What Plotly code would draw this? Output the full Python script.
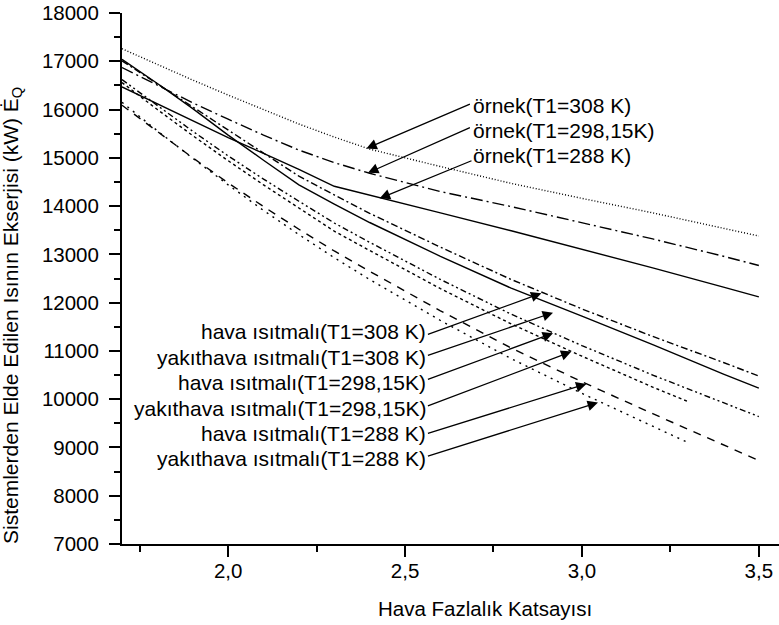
import plotly.graph_objects as go

FONT = "Liberation Sans, Arial, sans-serif"

# ---- data ----
x_full = [1.7, 1.8, 1.9, 2.0, 2.1, 2.2, 2.3, 2.4, 2.6, 2.8, 3.0, 3.2, 3.4, 3.5]
x_short = [1.7, 1.8, 1.9, 2.0, 2.1, 2.2, 2.3, 2.4, 2.6, 2.8, 3.0, 3.2, 3.3]

ornek_308 = [17260, 16930, 16610, 16300, 16000, 15700, 15430, 15180, 14820, 14470, 14160, 13860, 13540, 13380]
ornek_298 = [16870, 16500, 16140, 15800, 15470, 15160, 14900, 14680, 14300, 13990, 13650, 13320, 12960, 12770]
ornek_288 = [16470, 16120, 15770, 15420, 15090, 14760, 14410, 14230, 13860, 13490, 13110, 12720, 12320, 12120]
hava_308 = [17010, 16530, 16060, 15580, 15100, 14620, 14230, 13850, 13150, 12480, 11870, 11300, 10760, 10480]
yakit_308 = [17040, 16540, 16020, 15470, 14950, 14440, 14040, 13660, 12960, 12300, 11720, 11130, 10520, 10230]
hava_298 = [16620, 16080, 15550, 15040, 14560, 14100, 13650, 13250, 12480, 11760, 11110, 10500, 9930, 9640]
yakit_298 = [16560, 16000, 15460, 14940, 14440, 13960, 13480, 13080, 12290, 11560, 10890, 10250, 9950]
hava_288 = [16090, 15540, 15000, 14480, 13990, 13520, 13070, 12650, 11830, 11060, 10360, 9700, 9050, 8730]
yakit_288 = [16150, 15560, 14990, 14440, 13910, 13410, 12930, 12480, 11630, 10840, 10120, 9440, 9100]

x_tickvals = [2.0, 2.5, 3.0, 3.5]
x_ticktext = ["2,0", "2,5", "3,0", "3,5"]
x_minorvals = [1.75, 2.25, 2.75, 3.25]
y_tickvals = [7000, 8000, 9000, 10000, 11000, 12000, 13000, 14000, 15000, 16000, 17000, 18000]
y_ticktext = [str(v) for v in y_tickvals]

x_title = "Hava Fazlalık Katsayısı"
y_title = "Sistemlerden Elde Edilen Isının Ekserjisi (kW) Ė<sub>Q</sub>"

# labels: (text, text_x, text_y, tail_x, tail_y, head_x, head_y)
ornek_labels = [
    ("örnek(T1=308 K)", 2.6875, 16090, 2.6876, 16125, 2.3908, 15194),
    ("örnek(T1=298,15K)", 2.6875, 15573, 2.6876, 15641, 2.3953, 14689),
    ("örnek(T1=288 K)", 2.6875, 15056, 2.6921, 14952, 2.4284, 14160),
]
isitma_labels = [
    ("hava ısıtmalı(T1=308 K)", 2.5655, 11400, 2.5604, 11331, 2.8854, 12194),
    ("yakıthava ısıtmalı(T1=308 K)", 2.5655, 10870, 2.5604, 10897, 2.9182, 11793),
    ("hava ısıtmalı(T1=298,15K)", 2.5655, 10344, 2.5604, 10400, 2.9182, 11366),
    ("yakıthava ısıtmalı(T1=298,15K)", 2.5655, 9815, 2.5604, 9848, 2.9702, 10986),
    ("hava ısıtmalı(T1=288 K)", 2.5655, 9297, 2.5604, 9283, 3.0126, 10317),
    ("yakıthava ısıtmalı(T1=288 K)", 2.5655, 8766, 2.5604, 8813, 3.0454, 9930),
]

series = [
    (x_full, ornek_308, "1px,2px"),
    (x_full, ornek_298, "12px,4px,2px,4px"),
    (x_full, ornek_288, "solid"),
    (x_full, hava_308, "7px,3px,2px,3px"),
    (x_full, yakit_308, "solid"),
    (x_full, hava_298, "6px,3px,2px,3px,2px,3px"),
    (x_short, yakit_298, "3px,3px"),
    (x_full, hava_288, "8px,7px"),
    (x_short, yakit_288, "2px,5px"),
]

fig = go.Figure()
for xs, ys, dash in series:
    fig.add_trace(go.Scatter(x=xs, y=ys, mode="lines",
                             line=dict(color="black", width=1.4, dash=dash),
                             showlegend=False, hoverinfo="skip"))

annotations = []
for text, tx, ty, ax, ay, hx, hy in ornek_labels:
    annotations.append(dict(x=tx, y=ty, xref="x", yref="y", text=text, showarrow=False,
                            xanchor="left", yanchor="middle",
                            font=dict(family=FONT, size=21, color="black")))
    annotations.append(dict(x=hx, y=hy, xref="x", yref="y", ax=ax, ay=ay, axref="x", ayref="y",
                            text="", showarrow=True, arrowhead=2, arrowsize=1.6,
                            arrowwidth=1.3, arrowcolor="black"))
for text, tx, ty, ax, ay, hx, hy in isitma_labels:
    annotations.append(dict(x=tx, y=ty, xref="x", yref="y", text=text, showarrow=False,
                            xanchor="right", yanchor="middle",
                            font=dict(family=FONT, size=21, color="black")))
    annotations.append(dict(x=hx, y=hy, xref="x", yref="y", ax=ax, ay=ay, axref="x", ayref="y",
                            text="", showarrow=True, arrowhead=2, arrowsize=1.6,
                            arrowwidth=1.3, arrowcolor="black"))

L, T, B, R = 122, 13, 81, 0
W, H = 779, 625
pw, ph = W - L - R, H - T - B

annotations.append(dict(x=(484.5 - L) / pw, y=(H - B - 608) / ph, xref="paper", yref="paper",
                        text=x_title, showarrow=False, xanchor="center", yanchor="middle",
                        font=dict(family=FONT, size=20.5, color="black")))
annotations.append(dict(x=(12 - L) / pw, y=(H - B - 316) / ph, xref="paper", yref="paper",
                        text=y_title, showarrow=False, textangle=-90,
                        xanchor="center", yanchor="middle",
                        font=dict(family=FONT, size=21, color="black")))

fig.update_layout(
    width=W, height=H,
    margin=dict(l=L, r=R, t=T, b=B),
    paper_bgcolor="white", plot_bgcolor="white",
    font=dict(family=FONT, size=20.5, color="black"),
    annotations=annotations,
    xaxis=dict(range=[1.7, 1.7 + pw / 353.8], showline=True, linecolor="black", linewidth=2,
               showgrid=False, zeroline=False, ticks="outside", ticklen=11, tickwidth=2,
               tickcolor="black", tickmode="array", tickvals=x_tickvals, ticktext=x_ticktext,
               tickfont=dict(family=FONT, size=20.5, color="black"), ticklabelstandoff=-4,
               minor=dict(tickmode="array", tickvals=x_minorvals, ticks="outside", ticklen=6,
                          tickwidth=2, tickcolor="black", showgrid=False)),
    yaxis=dict(range=[7000, 18000], showline=True, linecolor="black", linewidth=2,
               showgrid=False, zeroline=False, ticks="outside", ticklen=11, tickwidth=2,
               tickcolor="black", tickmode="array", tickvals=y_tickvals, ticktext=y_ticktext,
               tickfont=dict(family=FONT, size=20.5, color="black"), ticklabelstandoff=6,
               minor=dict(dtick=500, tick0=7000, ticks="outside", ticklen=6, tickwidth=2,
                          tickcolor="black", showgrid=False)),
)

fig.write_html("out.html", config={"displayModeBar": False},
               post_script="document.body.style.margin='0';document.body.style.overflow='hidden';")
